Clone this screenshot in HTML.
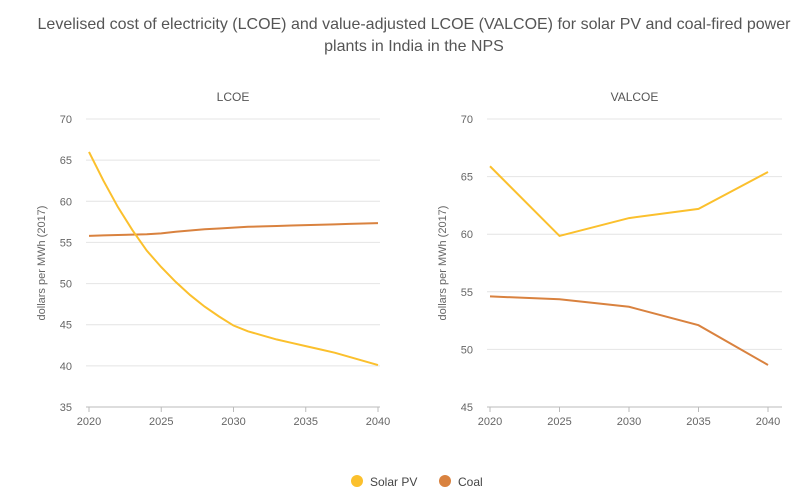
<!DOCTYPE html>
<html><head><meta charset="utf-8"><style>
body{margin:0;background:#fff;font-family:"Liberation Sans",sans-serif;}
svg text{font-family:"Liberation Sans",sans-serif;}
</style></head><body>
<svg id="c" width="807" height="494">
<text x="414" y="29" font-size="16" fill="#555" text-anchor="middle">Levelised cost of electricity (LCOE) and value-adjusted LCOE (VALCOE) for solar PV and coal-fired power</text>
<text x="414" y="51" font-size="16" fill="#555" text-anchor="middle">plants in India in the NPS</text>
<g id="legend">
<circle cx="357" cy="481" r="6" fill="#fbc02d"/>
<text x="370" y="486" font-size="12" fill="#444">Solar PV</text>
<circle cx="445" cy="481" r="6" fill="#d9823f"/>
<text x="458" y="486" font-size="12" fill="#444">Coal</text>
</g>
</svg>
<script>
const lcoeYears=[2020,2021,2022,2023,2024,2025,2026,2027,2028,2029,2030,2031,2032,2033,2034,2035,2036,2037,2038,2039,2040];
const lcoeSolar=[66,62.5,59.3,56.5,54,52,50.2,48.6,47.2,46,44.9,44.2,43.7,43.2,42.8,42.4,42,41.6,41.1,40.6,40.1];
const lcoeCoal=[55.8,55.85,55.9,55.95,56,56.1,56.3,56.45,56.6,56.7,56.8,56.9,56.95,57,57.05,57.1,57.15,57.2,57.25,57.3,57.35];
const valYears=[2020,2025,2030,2035,2040];
const valSolar=[65.9,59.85,61.4,62.2,65.4];
const valCoal=[54.6,54.35,53.7,52.1,48.65];
const lcoeTicks=[35,40,45,50,55,60,65,70];
const valTicks=[45,50,55,60,65,70];
const xTicks=[2020,2025,2030,2035,2040];
const NS='http://www.w3.org/2000/svg';
const svg=document.getElementById('c');
function mk(t,a,p){const e=document.createElementNS(NS,t);for(const k in a)e.setAttribute(k,a[k]);(p||svg).appendChild(e);return e;}
function panel(name,title,x0,x1,gx0,gx1,yTicks,years,solar,coal,ylabX){
  const g=mk('g',{});
  
  
  const ymin=yTicks[0],ymax=yTicks[yTicks.length-1];
  const X=v=>x0+(v-2020)/20*(x1-x0);
  const Y=v=>407-(v-ymin)/(ymax-ymin)*288;
  const t=mk('text',{x:(gx0+gx1)/2,y:101,'font-size':12,fill:'#555','text-anchor':'middle'},g);t.textContent=title;
  
  
  yTicks.forEach(v=>{
    const l=mk('line',{x1:gx0,x2:gx1,y1:Y(v),y2:Y(v),stroke:v===ymin?'#bbb':'#e4e4e4','stroke-width':1},g);
    
    
    const tx=mk('text',{x:gx0-14,y:Y(v)+4,'font-size':11,fill:'#666','text-anchor':'end'},g);tx.textContent=v;
    
    
  });
  xTicks.forEach(v=>{
    const l=mk('line',{x1:X(v),x2:X(v),y1:407,y2:412,stroke:'#bbb'},g);
    
    
    const tx=mk('text',{x:X(v),y:425,'font-size':11,fill:'#666','text-anchor':'middle'},g);tx.textContent=v;
    
    
  });
  const yl=mk('text',{x:ylabX,y:263,'font-size':11,fill:'#666','text-anchor':'middle',transform:`rotate(-90 ${ylabX} 263)`},g);
  yl.textContent='dollars per MWh (2017)';
  
  
  [[coal,'#d9823f','coal'],[solar,'#fbc02d','solar']].forEach(([s,c,n])=>{
    const p=mk('polyline',{points:s.map((v,i)=>X(years[i])+','+Y(v)).join(' '),fill:'none',stroke:c,'stroke-width':2},g);
    
    
  });
}
panel('lcoe','LCOE',89,378,86,380,lcoeTicks,lcoeYears,lcoeSolar,lcoeCoal,45);
panel('valcoe','VALCOE',490,768,487,782,valTicks,valYears,valSolar,valCoal,446);
</script>
</body></html>
